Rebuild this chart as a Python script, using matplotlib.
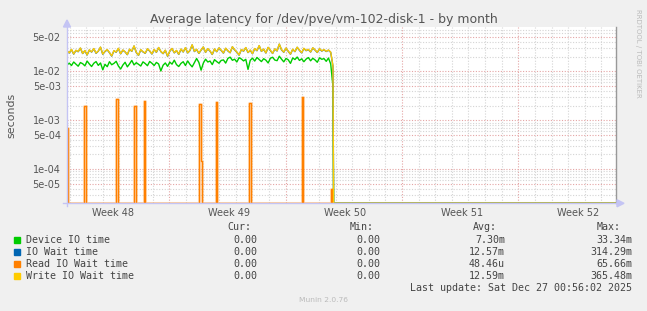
import numpy as np
import matplotlib.pyplot as plt
from matplotlib.lines import Line2D
from matplotlib.patches import Rectangle, Polygon

W, H = 647, 311

title = 'Average latency for /dev/pve/vm-102-disk-1 - by month'
week_labels = ['Week 48', 'Week 49', 'Week 50', 'Week 51', 'Week 52']
ytick_values = [5e-5, 1e-4, 5e-4, 1e-3, 5e-3, 1e-2, 5e-2]
ytick_labels = ['5e-05', '1e-04', '5e-04', '1e-03', '5e-03', '1e-02', '5e-02']

# latency in ms, evenly sampled from the start of the window until data stops
device_ms = [
    13.5, 14.8, 13.2, 15.6, 14.1, 12.8, 15.2, 14.4, 13.0, 16.3,
    14.2, 12.6, 14.7, 15.9, 13.3, 14.9, 10.8, 14.0, 12.5, 15.8,
    13.7, 14.6, 16.1, 12.9, 11.2, 13.5, 15.4, 12.4, 14.3, 16.8,
    13.6, 15.1, 14.0, 12.9, 15.7, 14.5, 13.1, 16.0, 14.7, 13.2,
    15.3, 14.2, 10.2, 13.4, 14.9, 12.7, 15.5, 14.1, 17.0, 13.8,
    12.6, 14.6, 15.8, 13.2, 16.4, 14.0, 12.4, 15.1, 18.4, 15.3,
    10.6, 14.8, 17.8, 15.6, 16.3, 13.8, 17.4, 15.9, 14.7, 16.8,
    17.2, 14.8, 18.5, 19.6, 16.9, 17.8, 15.6, 19.1, 18.0, 16.4,
    17.7, 11.0, 16.9, 18.7, 16.3, 19.3, 17.5, 15.9, 18.2, 17.0,
    14.9, 18.6, 19.5, 17.1, 16.6, 20.5, 17.8, 15.7, 18.4, 17.3,
    14.6, 18.9, 17.5, 19.7, 16.8, 18.1, 15.8, 17.9, 19.2, 16.5,
    18.6, 17.2, 15.4, 19.0, 17.7, 18.3, 16.1, 18.8, 14.2, 5.0,
]
iowait_ms = [
    26.2, 23.8, 28.0, 22.6, 26.9, 25.3, 29.9, 23.2, 26.5, 21.7,
    27.4, 24.9, 29.1, 23.5, 26.0, 31.2, 22.4, 25.6, 27.7, 24.2,
    20.6, 26.4, 24.7, 29.5, 22.9, 27.2, 25.1, 22.0, 28.3, 25.8,
    33.0, 24.4, 21.3, 27.6, 25.1, 23.5, 28.8, 26.1, 22.7, 27.9,
    24.6, 30.7, 25.4, 23.1, 27.0, 20.4, 25.9, 29.3, 24.0, 26.7,
    22.3, 28.5, 25.0, 30.4, 23.9, 26.6, 34.8, 25.5, 28.1, 23.4,
    27.3, 31.5, 24.5, 29.0, 26.0, 22.2, 28.6, 25.3, 30.1, 26.9,
    23.7, 29.6, 26.3, 24.1, 31.8, 27.5, 24.8, 21.5, 27.8, 26.0,
    30.6, 24.3, 27.1, 23.0, 29.2, 26.5, 33.5, 25.7, 28.4, 23.8,
    30.9, 26.8, 23.3, 28.7, 26.2, 36.0, 27.6, 24.7, 29.8, 25.8,
    22.5, 28.2, 25.4, 31.1, 27.0, 24.0, 29.4, 26.6, 28.0, 24.9,
    30.2, 27.3, 24.4, 28.9, 26.1, 27.7, 25.6, 27.2, 24.6, 12.8,
]
write_ms = [
    26.5, 24.0, 28.3, 22.8, 27.1, 25.6, 30.2, 23.4, 26.8, 21.9,
    27.7, 25.1, 29.4, 23.8, 26.2, 31.5, 22.6, 25.9, 28.0, 24.4,
    20.8, 26.7, 24.9, 29.8, 23.1, 27.5, 25.3, 22.2, 28.6, 26.0,
    33.4, 24.6, 21.5, 27.9, 25.4, 23.7, 29.1, 26.4, 22.9, 28.2,
    24.8, 31.0, 25.7, 23.3, 27.3, 20.6, 26.1, 29.6, 24.2, 27.0,
    22.5, 28.8, 25.2, 30.7, 24.1, 26.9, 35.2, 25.8, 28.4, 23.6,
    27.6, 31.8, 24.7, 29.3, 26.3, 22.4, 28.9, 25.5, 30.4, 27.2,
    23.9, 29.9, 26.6, 24.3, 32.1, 27.8, 25.0, 21.7, 28.1, 26.2,
    30.9, 24.5, 27.4, 23.2, 29.5, 26.8, 33.9, 25.9, 28.7, 24.0,
    31.2, 27.1, 23.5, 29.0, 26.5, 36.4, 27.9, 24.9, 30.1, 26.0,
    22.7, 28.5, 25.6, 31.4, 27.3, 24.2, 29.7, 26.9, 28.3, 25.1,
    30.5, 27.6, 24.6, 29.2, 26.4, 28.0, 25.8, 27.5, 24.8, 13.0,
]
# read wait is zero except for short bursts (day of burst, ms)
read_spike_day = [0.00, 1.10, 3.03, 4.05, 4.63, 8.02, 8.10, 9.01, 11.00, 14.16, 15.95]
read_spike_ms = [0.70, 2.00, 2.77, 2.00, 2.44, 2.20, 0.15, 2.37, 2.30, 3.00, 0.04]

legend_names = ['Device IO time', 'IO Wait time', 'Read IO Wait time', 'Write IO Wait time']
legend_colors = ['#00CC00', '#0066B3', '#FF8000', '#FFCC00']
cur_vals = ['0.00', '0.00', '0.00', '0.00']
min_vals = ['0.00', '0.00', '0.00', '0.00']
avg_vals = ['7.30m', '12.57m', '48.46u', '12.59m']
max_vals = ['33.34m', '314.29m', '65.66m', '365.48m']
last_update = 'Last update: Sat Dec 27 00:56:02 2025'

DAYS = 33.0
DATA_END = 16.0
FIRST_MONDAY = 6.155
YMIN, YMAX = 2e-5, 0.08


def px(x, y):
    return x / W, 1 - y / H


def series(vals_ms):
    t = np.linspace(0, DATA_END, len(vals_ms))
    t = np.append(t, [DATA_END + 0.04, DAYS])
    v = np.append(np.array(vals_ms) / 1000.0, [0.0, 0.0])
    return t, np.maximum(v, YMIN)


fig = plt.figure(figsize=(W / 100, H / 100), dpi=100, facecolor='#F0F0F0')
left, right, top, bottom = 67, 615.5, 27.3, 203.3
ax = fig.add_axes([left / W, 1 - bottom / H, (right - left) / W, (bottom - top) / H])
ax.set_facecolor('white')
ax.set_yscale('log')
ax.set_xlim(0, DAYS)
ax.set_ylim(YMIN, YMAX)

# grid
dot = (0, (1, 1.5))
for d in np.arange(FIRST_MONDAY - 6, DAYS, 1.0):
    is_week = abs((d - FIRST_MONDAY) % 7) < 1e-6
    ax.axvline(d, color='#E4A4A4' if is_week else '#D4D4D4', lw=0.8, ls=dot, zorder=0)
for dec in [1e-5, 1e-4, 1e-3, 1e-2]:
    for m in [2, 3, 4, 6, 7, 8, 9]:
        y = m * dec
        if YMIN < y < YMAX:
            ax.axhline(y, color='#D4D4D4', lw=0.8, ls=dot, zorder=0)
for y in ytick_values:
    ax.axhline(y, color='#E4A4A4', lw=0.8, ls=dot, zorder=0)

# data
t, v = series(device_ms)
ax.plot(t, v, color=legend_colors[0], lw=1.0, zorder=3)
t, v = series(iowait_ms)
ax.plot(t, v, color=legend_colors[1], lw=1.0, zorder=3)

read_t = np.arange(0, int(DAYS * 12) + 1) / 12.0
read_v = np.zeros_like(read_t)
for d, ms in zip(read_spike_day, read_spike_ms):
    read_v[int(round(d * 12))] = ms / 1000.0
read_v = np.maximum(read_v, YMIN)
ax.plot(read_t, read_v, color='#FFB870', lw=2.2, alpha=0.4, drawstyle='steps-mid', zorder=2)
ax.plot(read_t, read_v, color=legend_colors[2], lw=1.0, drawstyle='steps-mid', zorder=3)

t, v = series(write_ms)
ax.plot(t, v, color=legend_colors[3], lw=1.0, zorder=3)

# axes
ax.set_yticks(ytick_values)
ax.set_yticklabels(ytick_labels)
ax.yaxis.set_minor_locator(plt.NullLocator())
ax.set_xticks([FIRST_MONDAY - 3.4 + 7 * i for i in range(len(week_labels))])
ax.set_xticklabels(week_labels)
ax.tick_params(axis='both', length=0, colors='#555555', labelsize=7)
ax.tick_params(axis='y', pad=4.5)
ax.tick_params(axis='x', pad=3.5)
for s in ['top', 'left', 'bottom']:
    ax.spines[s].set_visible(False)
ax.spines['right'].set_color('#999999')
ax.spines['right'].set_linewidth(1.0)

axis_col = '#C4C4F4'
fig.add_artist(Line2D(*zip(px(left, bottom + 3), px(left, 24)), color=axis_col, lw=1.0))
fig.add_artist(Line2D(*zip(px(left - 4, bottom), px(619, bottom)), color=axis_col, lw=1.0))
fig.add_artist(Polygon([px(left - 3.5, 27), px(left + 3.5, 27), px(left, 20)], closed=True,
                       transform=fig.transFigure, color=axis_col))
fig.add_artist(Polygon([px(617, bottom - 3.5), px(617, bottom + 3.5), px(624, bottom)], closed=True,
                       transform=fig.transFigure, color=axis_col))

# texts
fig.text(*px(323.5, 19), title, ha='center', va='center', fontsize=9, color='#555555')
fig.text(*px(11, 115), 'seconds', rotation=90, ha='center', va='center', fontsize=7.9, color='#555555')
fig.text(*px(638, 53), 'RRDTOOL / TOBI OETIKER', rotation=270, ha='center', va='center',
         fontsize=5, color='#BBBBBB')

mono = dict(family='DejaVu Sans Mono', fontsize=7.2, color='#444444', va='center')
for x, head in [(251, 'Cur:'), (374, 'Min:'), (497, 'Avg:'), (621, 'Max:')]:
    fig.text(*px(x, 227.5), head, ha='right', **mono)
for i, name in enumerate(legend_names):
    y = 239.7 + 12 * i
    fig.add_artist(Rectangle(px(13.5, y + 3.3), 6.5 / W, 6.5 / H, transform=fig.transFigure,
                             color=legend_colors[i]))
    fig.text(*px(26, y), name, ha='left', **mono)
    fig.text(*px(257, y), cur_vals[i], ha='right', **mono)
    fig.text(*px(380, y), min_vals[i], ha='right', **mono)
    fig.text(*px(505, y), avg_vals[i], ha='right', **mono)
    fig.text(*px(632, y), max_vals[i], ha='right', **mono)
fig.text(*px(632, 288), last_update, ha='right', **mono)
fig.text(*px(323.5, 300), 'Munin 2.0.76', ha='center', va='center', fontsize=5.4, color='#BBBBBB')

fig.savefig('out.png', dpi=100, facecolor=fig.get_facecolor())
